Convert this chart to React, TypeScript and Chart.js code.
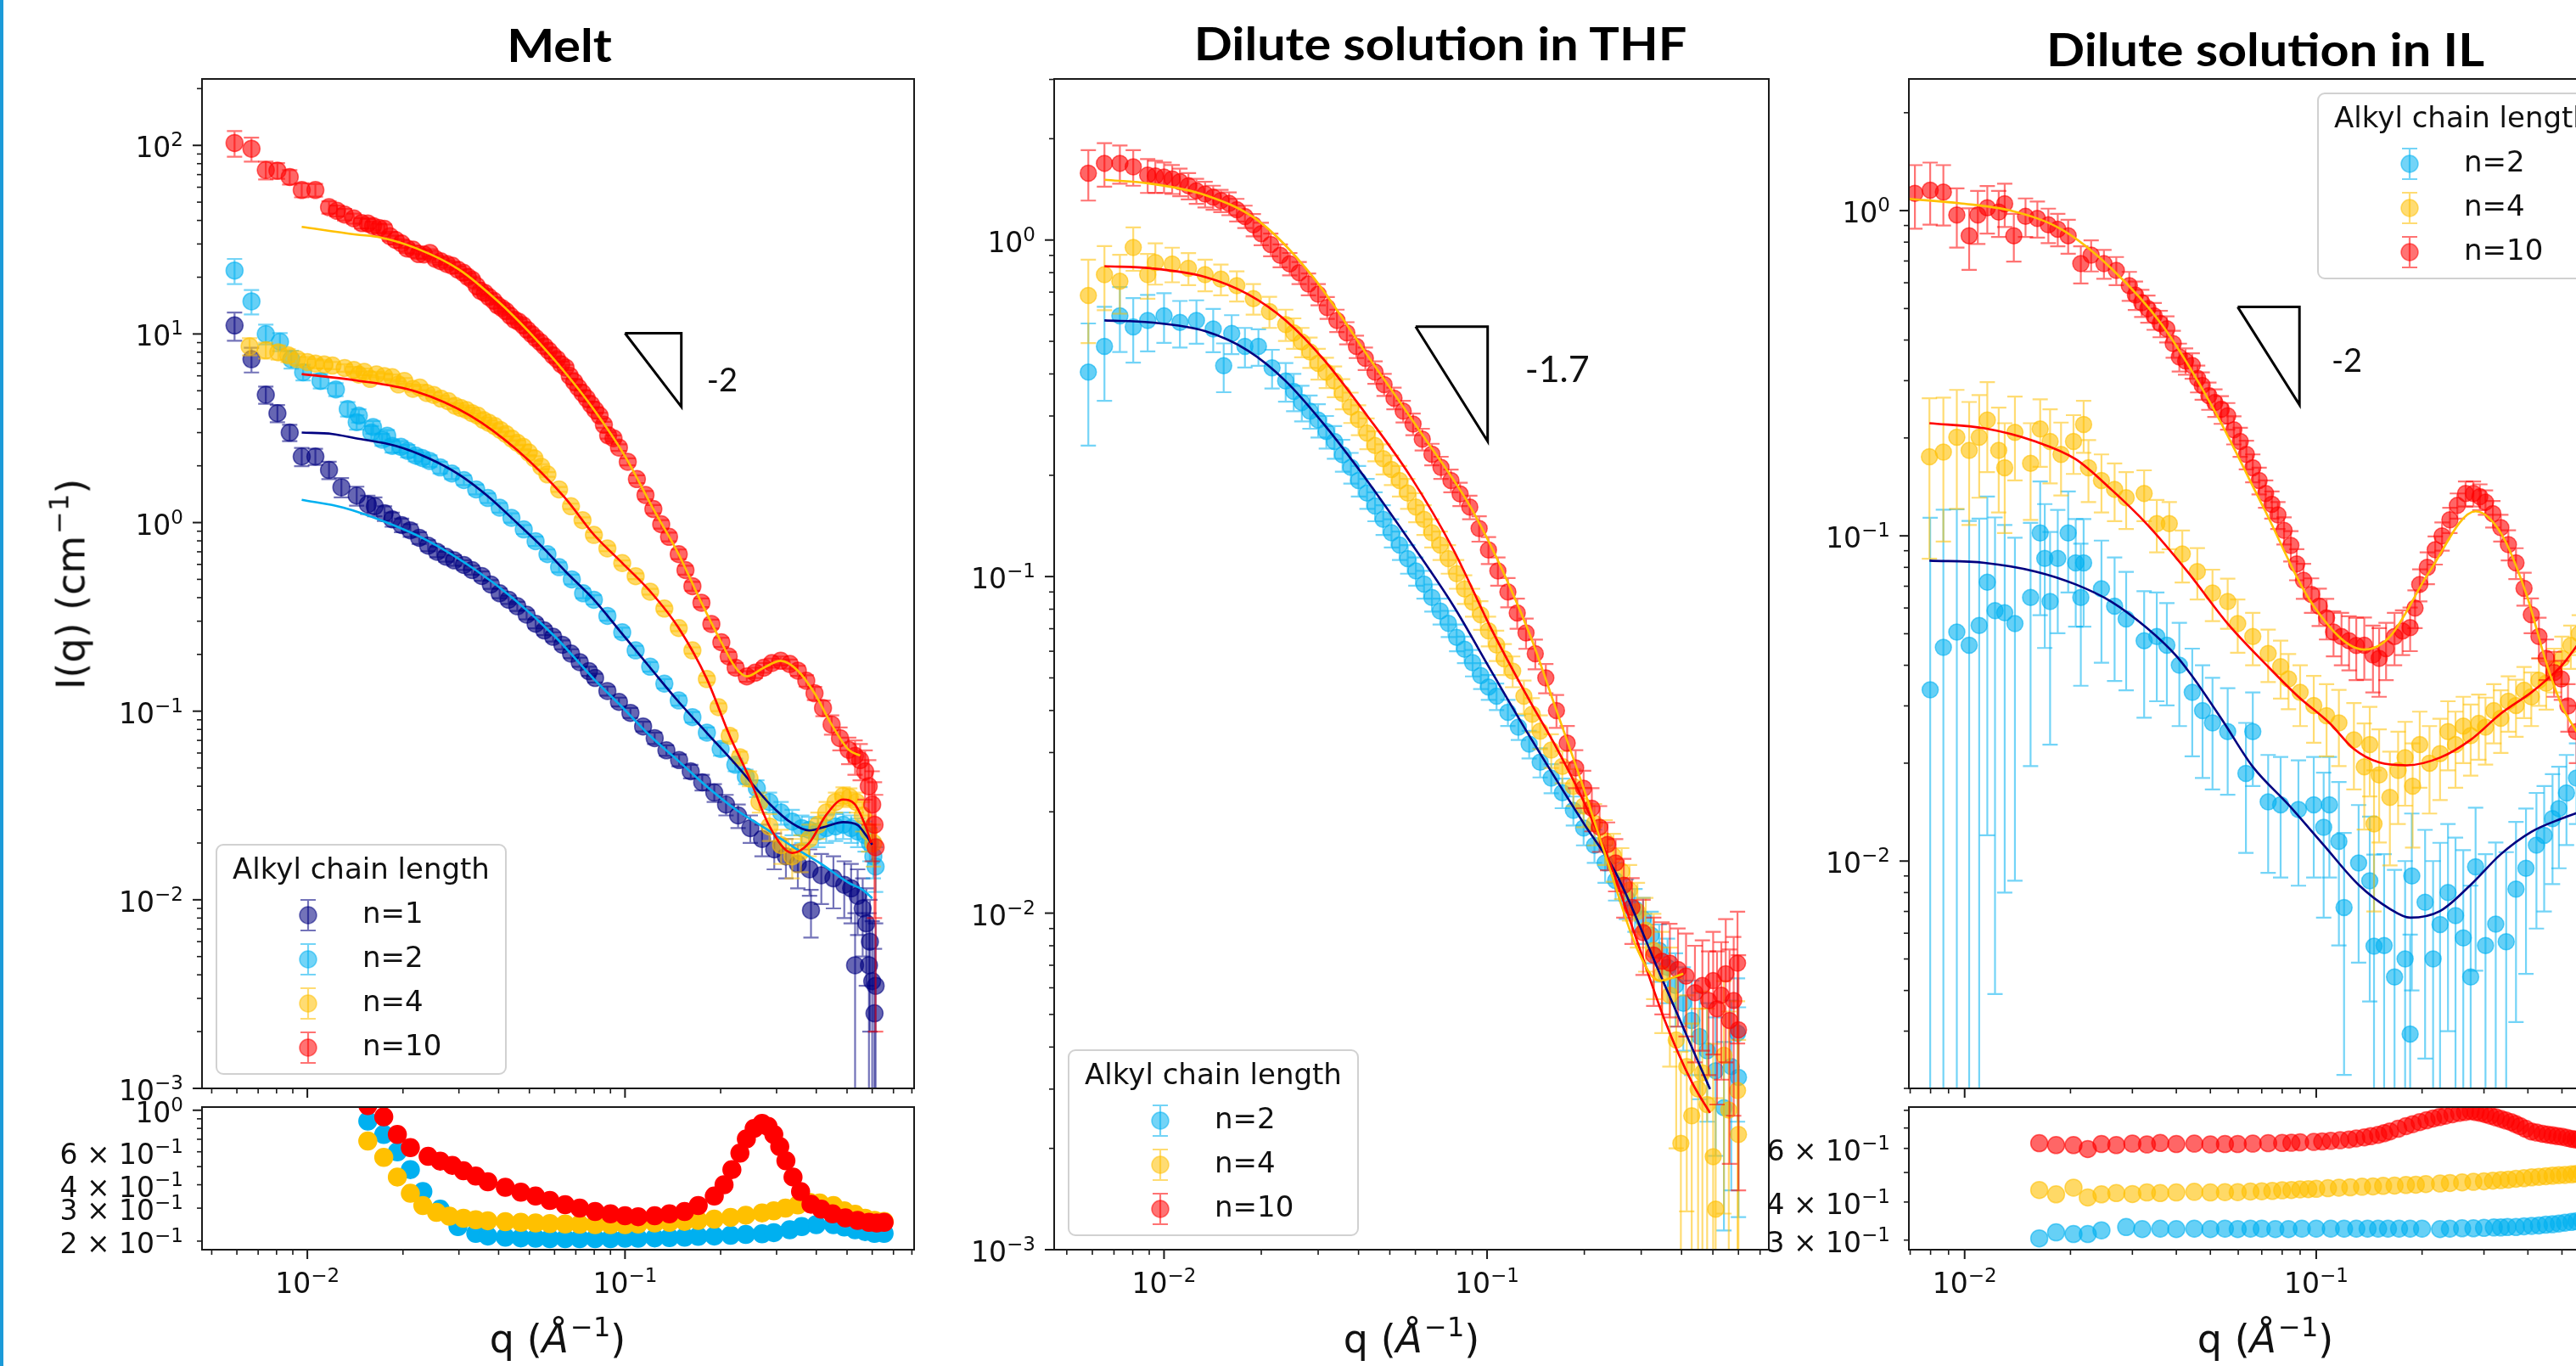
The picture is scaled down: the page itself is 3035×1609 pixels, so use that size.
import React, { useEffect, useRef } from 'react';
import { Chart, registerables } from 'chart.js';

Chart.register(...registerables);

// ---------------- tick values & labels ("base^exponent") ----------------
const qMajorTicks = [0.01, 0.1];
const qMinorTicks = [0.005, 0.006, 0.007, 0.008, 0.009, 0.02, 0.03, 0.04, 0.05, 0.06, 0.07, 0.08, 0.09, 0.2, 0.3, 0.4, 0.5, 0.6, 0.7, 0.8, 0.9];
const qTickLabels = ['10^−2', '10^−1'];
const iMajorTicks = [0.001, 0.01, 0.1, 1, 10, 100];
const iTickLabels = ['10^−3', '10^−2', '10^−1', '10^0', '10^1', '10^2'];
const iMinorMultipliers = [2, 3, 4, 5, 6, 7, 8, 9];
const meltRatioTicks = [0.2, 0.3, 0.4, 0.5, 0.6, 0.7, 0.8, 0.9, 1];
const meltRatioLabelled = [0.2, 0.3, 0.4, 0.6, 1];
const meltRatioLabels = ['2 × 10^−1', '3 × 10^−1', '4 × 10^−1', '6 × 10^−1', '10^0'];
const ilRatioTicks = [0.3, 0.4, 0.5, 0.6, 0.7, 0.8];
const ilRatioLabelled = [0.3, 0.4, 0.6];
const ilRatioLabels = ['3 × 10^−1', '4 × 10^−1', '6 × 10^−1'];

// ---------------- axis ranges ----------------
const meltQRange = [0.00466, 0.813];
const meltIRange = [0.001, 225];
const meltRatioRange = [0.18, 1.04];
const thfQRange = [0.00457, 0.745];
const thfIRange = [0.001, 3.01];
const ilQRange = [0.00694, 0.74];
const ilIRange = [0.002, 2.54];
const ilRatioRange = [0.279, 0.82];

// ---------------- MELT data [q, I, err] ----------------
const meltN1 = [
  [0.0059, 11.1, 1.9], [0.00667, 7.35, 1.1], [0.0074, 4.76, 0.5], [0.00805, 3.8, 0.4], [0.0088, 3.0, 0.3],
  [0.0096, 2.24, 0.25], [0.0106, 2.24, 0.22], [0.0117, 1.9, 0.2], [0.0128, 1.54, 0.18], [0.0143, 1.39, 0.16],
  [0.0155, 1.25, 0.14], [0.0163, 1.22, 0.14], [0.0175, 1.12, 0.1], [0.0185, 1.04, 0.09], [0.0198, 0.97, 0.08],
  [0.0211, 0.91, 0.07], [0.0225, 0.83, 0.06], [0.024, 0.755, 0.05], [0.0256, 0.7, 0.045], [0.0273, 0.66, 0.04],
  [0.029, 0.63, 0.04], [0.0311, 0.596, 0.035], [0.033, 0.56, 0.03], [0.0354, 0.521, 0.03], [0.0378, 0.47, 0.025],
  [0.0403, 0.422, 0.025], [0.043, 0.39, 0.02], [0.0458, 0.36, 0.02], [0.049, 0.325, 0.018], [0.0523, 0.291, 0.016],
  [0.0557, 0.268, 0.015], [0.0594, 0.248, 0.014], [0.0635, 0.225, 0.012], [0.0676, 0.202, 0.011], [0.072, 0.182, 0.01],
  [0.077, 0.163, 0.009], [0.0805, 0.15, 0.008], [0.088, 0.128, 0.007], [0.0957, 0.112, 0.006], [0.104, 0.098, 0.006],
  [0.114, 0.083, 0.005], [0.124, 0.072, 0.005], [0.135, 0.062, 0.004], [0.148, 0.055, 0.004], [0.161, 0.048, 0.004],
  [0.175, 0.042, 0.004], [0.191, 0.037, 0.004], [0.208, 0.032, 0.004], [0.227, 0.028, 0.004], [0.248, 0.024, 0.004],
  [0.27, 0.021, 0.004], [0.295, 0.0185, 0.004], [0.321, 0.017, 0.004], [0.35, 0.0155, 0.004], [0.381, 0.0145, 0.004],
  [0.385, 0.0088, 0.0025], [0.415, 0.0135, 0.004], [0.453, 0.013, 0.004], [0.49, 0.012, 0.004], [0.515, 0.0115, 0.004],
  [0.53, 0.0045, 0.004], [0.54, 0.0105, 0.004], [0.56, 0.009, 0.004], [0.575, 0.0075, 0.004], [0.586, 0.0045, 0.004],
  [0.59, 0.006, 0.004], [0.6, 0.0037, 0.004], [0.61, 0.0025, 0.003], [0.615, 0.0035, 0.004],
];
const meltN2 = [
  [0.0059, 21.7, 3.3], [0.00667, 14.9, 2.2], [0.0074, 10, 1.2], [0.0082, 9.1, 1.0], [0.0089, 7.35, 0.8],
  [0.0097, 6.27, 0.6], [0.011, 5.64, 0.5], [0.0123, 5.08, 0.4], [0.0134, 4.0, 0.35], [0.0143, 3.41, 0.3],
  [0.01452, 3.69, 0.3], [0.0159, 3.0, 0.25], [0.0161, 3.21, 0.25], [0.0172, 2.75, 0.2], [0.01784, 2.89, 0.2],
  [0.0185, 2.55, 0.2], [0.0197, 2.52, 0.18], [0.0207, 2.4, 0.18], [0.0219, 2.27, 0.16], [0.023, 2.2, 0.16],
  [0.0243, 2.12, 0.15], [0.0262, 1.96, 0.14], [0.0285, 1.82, 0.12], [0.0311, 1.68, 0.1], [0.034, 1.5, 0.09],
  [0.037, 1.35, 0.08], [0.0403, 1.2, 0.07], [0.0439, 1.06, 0.06], [0.048, 0.92, 0.05], [0.0523, 0.797, 0.045],
  [0.057, 0.68, 0.04], [0.062, 0.58, 0.035], [0.068, 0.5, 0.03], [0.0738, 0.422, 0.025], [0.0798, 0.39, 0.022],
  [0.088, 0.32, 0.018], [0.098, 0.262, 0.015], [0.108, 0.21, 0.012], [0.12, 0.172, 0.01], [0.133, 0.14, 0.008],
  [0.1476, 0.114, 0.007], [0.163, 0.093, 0.006], [0.181, 0.077, 0.005], [0.2, 0.063, 0.005], [0.2225, 0.052, 0.004],
  [0.24, 0.045, 0.004], [0.26, 0.039, 0.004], [0.285, 0.033, 0.004], [0.31, 0.029, 0.004], [0.336, 0.026, 0.004],
  [0.36, 0.024, 0.004], [0.38, 0.0235, 0.004], [0.405, 0.023, 0.004], [0.43, 0.024, 0.004], [0.46, 0.0245, 0.004],
  [0.486, 0.025, 0.004], [0.515, 0.024, 0.004], [0.54, 0.023, 0.004], [0.57, 0.022, 0.004], [0.59, 0.02, 0.004],
  [0.605, 0.017, 0.004], [0.615, 0.015, 0.004],
];
const meltN4 = [
  [0.00658, 8.6, 0.9], [0.0074, 8.2, 0.8], [0.0081, 8.0, 0.7], [0.0087, 7.7, 0.6], [0.0093, 7.35, 0.5],
  [0.01, 7.1, 0.45], [0.0106, 6.97, 0.4], [0.0113, 6.9, 0.35], [0.012, 6.8, 0.3], [0.0131, 6.6, 0.3],
  [0.014, 6.45, 0.25], [0.01452, 6.09, 0.25], [0.0151, 6.3, 0.25], [0.01577, 5.78, 0.25], [0.0165, 6.1, 0.2],
  [0.01747, 5.98, 0.2], [0.0185, 5.9, 0.2], [0.01936, 5.4, 0.2], [0.0202, 5.64, 0.2], [0.0215, 5.12, 0.18],
  [0.0226, 5.2, 0.18], [0.02377, 4.86, 0.16], [0.025, 4.75, 0.15], [0.02634, 4.54, 0.15], [0.0278, 4.4, 0.14],
  [0.0292, 4.16, 0.14], [0.0304, 4.05, 0.13], [0.0317, 3.95, 0.12], [0.033, 3.8, 0.12], [0.0344, 3.69, 0.11],
  [0.0358, 3.5, 0.1], [0.0373, 3.38, 0.1], [0.0389, 3.25, 0.1], [0.0405, 3.1, 0.09], [0.0422, 2.95, 0.09],
  [0.044, 2.79, 0.08], [0.0458, 2.65, 0.08], [0.0478, 2.52, 0.07], [0.0498, 2.35, 0.07], [0.0519, 2.19, 0.06],
  [0.0545, 1.98, 0.06], [0.057, 1.8, 0.05], [0.062, 1.5, 0.045], [0.0676, 1.22, 0.04], [0.0735, 1.03, 0.035],
  [0.0798, 0.86, 0.03], [0.088, 0.73, 0.025], [0.098, 0.61, 0.02], [0.108, 0.52, 0.018], [0.12, 0.43, 0.015],
  [0.133, 0.35, 0.012], [0.1476, 0.276, 0.01], [0.163, 0.21, 0.008], [0.181, 0.148, 0.006], [0.197, 0.105, 0.005],
  [0.2136, 0.074, 0.005], [0.23, 0.057, 0.004], [0.2466, 0.044, 0.004], [0.265, 0.033, 0.004], [0.285, 0.0245, 0.004],
  [0.31, 0.0195, 0.004], [0.336, 0.017, 0.004], [0.358, 0.018, 0.004], [0.38, 0.021, 0.004], [0.405, 0.025, 0.004],
  [0.43, 0.029, 0.004], [0.46, 0.033, 0.004], [0.486, 0.0355, 0.004], [0.51, 0.035, 0.004], [0.535, 0.033, 0.004],
  [0.56, 0.028, 0.005], [0.585, 0.023, 0.005], [0.605, 0.02, 0.005],
];
const meltN10 = [
  [0.0059, 103, 16], [0.00667, 96, 14], [0.0074, 74, 8], [0.00805, 73.5, 7], [0.0088, 68, 6],
  [0.0096, 58, 5], [0.0106, 58, 4.5], [0.0117, 47, 3.5], [0.0124, 45, 3], [0.0131, 43, 3],
  [0.014, 41, 2.5], [0.01483, 38.7, 2.5], [0.0155, 38.5, 2.2], [0.0161, 37.4, 2], [0.0168, 36.5, 2],
  [0.01747, 36.1, 2], [0.0182, 33, 1.8], [0.01897, 31.5, 1.7], [0.0198, 30.2, 1.6], [0.0206, 28.4, 1.5],
  [0.0215, 28.0, 1.5], [0.0224, 26.5, 1.4], [0.0233, 26.4, 1.3], [0.0243, 26.9, 1.2], [0.0253, 25.0, 1.1],
  [0.0263, 24.3, 1.1], [0.0275, 23.5, 1], [0.0286, 23.0, 1], [0.0298, 21.9, 0.9], [0.031, 21.1, 0.9],
  [0.032, 20.1, 0.8], [0.033, 19.4, 0.8], [0.0341, 18.0, 0.7], [0.0351, 16.9, 0.7], [0.0362, 16.5, 0.6],
  [0.0373, 15.7, 0.6], [0.0386, 15.0, 0.55], [0.0397, 14.2, 0.55], [0.041, 13.7, 0.5], [0.0422, 13.2, 0.5],
  [0.0435, 12.5, 0.45], [0.0449, 11.9, 0.45], [0.0463, 11.6, 0.4], [0.0478, 11.1, 0.4], [0.0493, 10.5, 0.35],
  [0.0508, 10.0, 0.35], [0.0524, 9.5, 0.3], [0.0541, 9.06, 0.3], [0.0558, 8.6, 0.3], [0.0575, 8.17, 0.28],
  [0.0593, 7.7, 0.26], [0.0611, 7.36, 0.25], [0.063, 6.9, 0.24], [0.065, 6.64, 0.22], [0.067, 6.0, 0.21],
  [0.0692, 5.58, 0.2], [0.0713, 5.2, 0.18], [0.0735, 4.86, 0.17], [0.0758, 4.55, 0.16], [0.0782, 4.23, 0.15],
  [0.0806, 3.95, 0.14], [0.0832, 3.69, 0.13], [0.0858, 3.3, 0.12], [0.0885, 2.9, 0.11], [0.092, 2.8, 0.1],
  [0.0957, 2.5, 0.1], [0.102, 2.1, 0.09], [0.109, 1.7, 0.08], [0.116, 1.4, 0.07], [0.1228, 1.18, 0.06],
  [0.13, 0.98, 0.05], [0.1376, 0.84, 0.045], [0.1476, 0.68, 0.04], [0.155, 0.56, 0.03], [0.163, 0.46, 0.025],
  [0.174, 0.376, 0.02], [0.187, 0.29, 0.016], [0.201, 0.232, 0.013], [0.212, 0.195, 0.011], [0.223, 0.17, 0.01],
  [0.2417, 0.153, 0.01], [0.257, 0.16, 0.01], [0.2735, 0.17, 0.01], [0.29, 0.18, 0.01], [0.309, 0.185, 0.01],
  [0.33, 0.178, 0.01], [0.35, 0.164, 0.01], [0.372, 0.145, 0.01], [0.395, 0.1245, 0.01], [0.42, 0.104, 0.01],
  [0.447, 0.085, 0.01], [0.475, 0.072, 0.01], [0.506, 0.0624, 0.01], [0.53, 0.058, 0.012], [0.55, 0.055, 0.012],
  [0.57, 0.048, 0.014], [0.585, 0.04, 0.015], [0.6, 0.032, 0.016], [0.61, 0.025, 0.017], [0.615, 0.019, 0.017],
];
const meltFitN1 = [
  [0.0096, 1.32], [0.013, 1.2], [0.0178, 1.0], [0.024, 0.8], [0.0339, 0.56], [0.045, 0.39], [0.06, 0.25],
  [0.0798, 0.148], [0.098, 0.105], [0.12, 0.074], [0.1476, 0.0543], [0.181, 0.0398], [0.2225, 0.0302],
  [0.279, 0.0237], [0.336, 0.0192], [0.412, 0.0156], [0.506, 0.0123], [0.56, 0.0113], [0.6, 0.0102],
];
const meltFitN2 = [
  [0.0096, 3.0], [0.012, 2.95], [0.0142, 2.8], [0.019, 2.55], [0.024, 2.2], [0.03, 1.8], [0.037, 1.38],
  [0.045, 1.02], [0.055, 0.74], [0.065, 0.55], [0.0798, 0.39], [0.098, 0.257], [0.12, 0.17], [0.1476, 0.112],
  [0.181, 0.0767], [0.2225, 0.0525], [0.2515, 0.0412], [0.285, 0.0323], [0.336, 0.0254], [0.38, 0.0233],
  [0.43, 0.0245], [0.486, 0.0258], [0.54, 0.0249], [0.572, 0.0221], [0.6, 0.0196],
];
const meltFitN4 = [
  [0.0096, 6.13], [0.0142, 5.68], [0.022, 4.95], [0.0325, 3.7], [0.0458, 2.42], [0.0648, 1.35], [0.0798, 0.863],
  [0.098, 0.611], [0.12, 0.432], [0.1476, 0.276], [0.181, 0.148], [0.2136, 0.074], [0.2466, 0.0441],
  [0.285, 0.0245], [0.336, 0.0177], [0.38, 0.02], [0.43, 0.0282], [0.486, 0.034], [0.527, 0.0323],
  [0.572, 0.0245], [0.595, 0.02],
];
const meltFitN10 = [
  [0.0096, 37], [0.0142, 33.7], [0.017, 32.5], [0.022, 28.5], [0.03, 22], [0.04, 14.8], [0.05, 10.2],
  [0.065, 6.2], [0.08, 3.95], [0.1, 2.25], [0.1228, 1.18], [0.1476, 0.678], [0.174, 0.376], [0.201, 0.232],
  [0.223, 0.17], [0.2417, 0.153], [0.2735, 0.17], [0.309, 0.185], [0.35, 0.164], [0.395, 0.1245],
  [0.447, 0.085], [0.506, 0.0624], [0.55, 0.0582],
];
const meltSlope = [[0.1, 10.09], [0.1504, 10.09], [0.1504, 4.11], [0.1, 10.09]];
const meltRatioN2 = [
  [0.0155, 0.875], [0.0174, 0.743], [0.0192, 0.6], [0.0211, 0.482], [0.0231, 0.368], [0.0262, 0.296],
  [0.0298, 0.239], [0.0339, 0.22], [0.037, 0.213], [0.042, 0.21], [0.047, 0.208], [0.0523, 0.207],
  [0.058, 0.206], [0.0648, 0.206], [0.072, 0.206], [0.0805, 0.206], [0.09, 0.206], [0.1, 0.207], [0.11, 0.207],
  [0.124, 0.208], [0.138, 0.209], [0.154, 0.21], [0.17, 0.212], [0.191, 0.213], [0.215, 0.215], [0.24, 0.217],
  [0.27, 0.219], [0.294, 0.222], [0.33, 0.23], [0.36, 0.239], [0.4, 0.245], [0.453, 0.245], [0.49, 0.238],
  [0.53, 0.23], [0.57, 0.225], [0.61, 0.22], [0.654, 0.22],
];
const meltRatioN4 = [
  [0.0155, 0.685], [0.0174, 0.56], [0.0192, 0.44], [0.0211, 0.36], [0.0231, 0.31], [0.0255, 0.285],
  [0.028, 0.272], [0.031, 0.265], [0.0339, 0.26], [0.037, 0.257], [0.042, 0.254], [0.047, 0.252],
  [0.0523, 0.25], [0.058, 0.248], [0.0648, 0.247], [0.072, 0.246], [0.0805, 0.245], [0.09, 0.245], [0.1, 0.245],
  [0.11, 0.247], [0.124, 0.25], [0.138, 0.252], [0.154, 0.255], [0.17, 0.258], [0.191, 0.262], [0.215, 0.268],
  [0.24, 0.275], [0.27, 0.283], [0.294, 0.29], [0.32, 0.3], [0.35, 0.312], [0.381, 0.322], [0.41, 0.32],
  [0.453, 0.31], [0.49, 0.29], [0.53, 0.278], [0.57, 0.265], [0.61, 0.258], [0.654, 0.255],
];
const meltRatioN10 = [
  [0.0155, 1.06], [0.0174, 0.922], [0.0192, 0.743], [0.0211, 0.632], [0.024, 0.567], [0.0262, 0.535],
  [0.0286, 0.508], [0.031, 0.475], [0.0339, 0.445], [0.037, 0.415], [0.042, 0.388], [0.047, 0.365],
  [0.0523, 0.348], [0.058, 0.33], [0.0648, 0.313], [0.072, 0.3], [0.0805, 0.288], [0.09, 0.28], [0.1, 0.273],
  [0.11, 0.27], [0.124, 0.273], [0.138, 0.28], [0.154, 0.288], [0.17, 0.31], [0.191, 0.348], [0.205, 0.4],
  [0.217, 0.482], [0.23, 0.59], [0.241, 0.703], [0.255, 0.8], [0.27, 0.851], [0.282, 0.82], [0.294, 0.743],
  [0.307, 0.64], [0.321, 0.537], [0.338, 0.44], [0.357, 0.368], [0.385, 0.315], [0.415, 0.296], [0.45, 0.28],
  [0.494, 0.266], [0.54, 0.258], [0.586, 0.252], [0.62, 0.25], [0.654, 0.252],
];

// ---------------- THF data ----------------
const thfN2 = [
  [0.00583, 0.405, 0.16], [0.00654, 0.483, 0.15], [0.0073, 0.595, 0.13], [0.00803, 0.552, 0.12], [0.0089, 0.577, 0.11],
  [0.01, 0.595, 0.1], [0.0112, 0.569, 0.09], [0.0126, 0.577, 0.085], [0.0142, 0.544, 0.08], [0.0153, 0.423, 0.07],
  [0.0162, 0.528, 0.07], [0.0178, 0.483, 0.065], [0.0196, 0.483, 0.06], [0.0216, 0.417, 0.055], [0.0238, 0.381, 0.05],
  [0.0252, 0.355, 0.045], [0.0267, 0.329, 0.04], [0.0283, 0.31, 0.035], [0.03, 0.292, 0.033], [0.0318, 0.27, 0.03],
  [0.0337, 0.252, 0.028], [0.0357, 0.23, 0.025], [0.0379, 0.211, 0.022], [0.04, 0.193, 0.02], [0.0425, 0.177, 0.018],
  [0.045, 0.162, 0.016], [0.0477, 0.148, 0.015], [0.0506, 0.135, 0.013], [0.0536, 0.124, 0.012], [0.0568, 0.113, 0.011],
  [0.0602, 0.104, 0.01], [0.0638, 0.095, 0.009], [0.0675, 0.0867, 0.008], [0.0716, 0.079, 0.007], [0.0759, 0.0726, 0.0065],
  [0.0805, 0.066, 0.006], [0.0852, 0.0608, 0.0055], [0.0902, 0.0555, 0.005], [0.0956, 0.0508, 0.0045], [0.101, 0.047, 0.004],
  [0.107, 0.0441, 0.004], [0.116, 0.0395, 0.0035], [0.125, 0.0357, 0.003], [0.135, 0.0318, 0.003], [0.146, 0.0281, 0.0028],
  [0.158, 0.0252, 0.0025], [0.171, 0.0228, 0.0023], [0.185, 0.0202, 0.002], [0.199, 0.0179, 0.002], [0.215, 0.0159, 0.0018],
  [0.232, 0.0141, 0.0018], [0.25, 0.0125, 0.0016], [0.27, 0.0111, 0.0015], [0.287, 0.0103, 0.0015], [0.304, 0.0096, 0.0015],
  [0.322, 0.0086, 0.0015], [0.341, 0.00775, 0.0015], [0.362, 0.0069, 0.0015], [0.383, 0.0061, 0.0015], [0.405, 0.0054, 0.0015],
  [0.43, 0.0048, 0.0015], [0.455, 0.0043, 0.0015], [0.48, 0.0039, 0.0015], [0.51, 0.0034, 0.0015], [0.541, 0.00264, 0.0015],
  [0.57, 0.0035, 0.002], [0.596, 0.0044, 0.002], [0.6, 0.00325, 0.002],
];
const thfN4 = [
  [0.00583, 0.684, 0.19], [0.00654, 0.789, 0.17], [0.0073, 0.754, 0.15], [0.00803, 0.95, 0.14], [0.0089, 0.789, 0.12],
  [0.0094, 0.857, 0.12], [0.0106, 0.849, 0.1], [0.0119, 0.824, 0.09], [0.0134, 0.789, 0.085], [0.015, 0.765, 0.08],
  [0.0168, 0.732, 0.075], [0.0189, 0.67, 0.07], [0.0212, 0.613, 0.065], [0.0238, 0.561, 0.06], [0.0252, 0.53, 0.055],
  [0.0267, 0.498, 0.05], [0.0283, 0.465, 0.048], [0.03, 0.43, 0.045], [0.0318, 0.405, 0.042], [0.0337, 0.381, 0.04],
  [0.0357, 0.35, 0.036], [0.0379, 0.319, 0.033], [0.04, 0.293, 0.03], [0.0425, 0.267, 0.028], [0.045, 0.245, 0.025],
  [0.0477, 0.224, 0.023], [0.0506, 0.208, 0.021], [0.0536, 0.193, 0.02], [0.0568, 0.177, 0.018], [0.0602, 0.161, 0.016],
  [0.0638, 0.148, 0.015], [0.0675, 0.135, 0.013], [0.0716, 0.124, 0.012], [0.0759, 0.113, 0.011], [0.0805, 0.102, 0.01],
  [0.0852, 0.0919, 0.009], [0.0902, 0.084, 0.008], [0.0956, 0.077, 0.0075], [0.101, 0.069, 0.007], [0.107, 0.0626, 0.0065],
  [0.113, 0.057, 0.006], [0.12, 0.0524, 0.0055], [0.13, 0.0441, 0.005], [0.138, 0.039, 0.0045], [0.146, 0.0347, 0.004],
  [0.158, 0.0305, 0.0035], [0.171, 0.0273, 0.003], [0.185, 0.0238, 0.003], [0.199, 0.0208, 0.0028], [0.215, 0.0185, 0.0026],
  [0.232, 0.0164, 0.0025], [0.246, 0.0148, 0.0024], [0.261, 0.0133, 0.0023], [0.276, 0.0117, 0.0022], [0.292, 0.0101, 0.0022],
  [0.31, 0.0089, 0.0022], [0.328, 0.00775, 0.0022], [0.348, 0.0066, 0.0022], [0.368, 0.0057, 0.0022], [0.385, 0.0042, 0.0022],
  [0.398, 0.00207, 0.0018], [0.415, 0.0035, 0.0022], [0.43, 0.0025, 0.0022], [0.45, 0.003, 0.0022], [0.464, 0.00335, 0.0025],
  [0.48, 0.0027, 0.0025], [0.501, 0.00189, 0.0022], [0.51, 0.00132, 0.0015], [0.541, 0.00378, 0.0025], [0.56, 0.0026, 0.0025],
  [0.596, 0.00297, 0.0025], [0.6, 0.0022, 0.002],
];
const thfN10 = [
  [0.00583, 1.58, 0.27], [0.00654, 1.69, 0.25], [0.0073, 1.69, 0.22], [0.00803, 1.65, 0.2], [0.0089, 1.56, 0.18],
  [0.0094, 1.55, 0.17], [0.01, 1.54, 0.16], [0.0106, 1.52, 0.15], [0.0112, 1.49, 0.14], [0.0119, 1.45, 0.13],
  [0.0126, 1.4, 0.12], [0.0134, 1.37, 0.12], [0.0142, 1.34, 0.11], [0.015, 1.31, 0.1], [0.0159, 1.285, 0.1],
  [0.0168, 1.23, 0.095], [0.0178, 1.175, 0.09], [0.0189, 1.11, 0.085], [0.02, 1.045, 0.08], [0.0214, 0.97, 0.075],
  [0.0229, 0.9, 0.07], [0.0245, 0.85, 0.065], [0.0262, 0.8, 0.06], [0.028, 0.74, 0.055], [0.03, 0.69, 0.05],
  [0.032, 0.63, 0.047], [0.0343, 0.577, 0.044], [0.0368, 0.53, 0.04], [0.0394, 0.483, 0.037], [0.042, 0.445, 0.034],
  [0.045, 0.405, 0.031], [0.048, 0.372, 0.028], [0.0515, 0.339, 0.025], [0.055, 0.31, 0.023], [0.059, 0.284, 0.021],
  [0.063, 0.256, 0.019], [0.0675, 0.231, 0.017], [0.072, 0.211, 0.016], [0.0773, 0.193, 0.015], [0.0825, 0.176, 0.014],
  [0.0884, 0.161, 0.013], [0.0945, 0.139, 0.012], [0.101, 0.12, 0.011], [0.108, 0.104, 0.01], [0.116, 0.09, 0.009],
  [0.124, 0.078, 0.008], [0.132, 0.068, 0.007], [0.141, 0.059, 0.006], [0.152, 0.05, 0.005], [0.164, 0.04, 0.0045],
  [0.177, 0.032, 0.004], [0.188, 0.027, 0.0035], [0.199, 0.0235, 0.003], [0.211, 0.0205, 0.003], [0.223, 0.018, 0.0028],
  [0.236, 0.016, 0.0026], [0.25, 0.0141, 0.0025], [0.265, 0.0121, 0.0024], [0.281, 0.0104, 0.0023], [0.304, 0.00875, 0.0022],
  [0.328, 0.0075, 0.0022], [0.348, 0.0072, 0.0022], [0.368, 0.0071, 0.0022], [0.39, 0.0068, 0.0022], [0.413, 0.0065, 0.0022],
  [0.44, 0.0058, 0.0022], [0.464, 0.0061, 0.0022], [0.485, 0.0055, 0.0022], [0.501, 0.0063, 0.0025], [0.515, 0.0052, 0.0025],
  [0.531, 0.0057, 0.0025], [0.548, 0.0066, 0.003], [0.563, 0.0048, 0.003], [0.58, 0.0055, 0.003], [0.596, 0.0071, 0.003],
  [0.6, 0.0045, 0.003],
];
const thfFitN2 = [
  [0.00654, 0.577], [0.0091, 0.569], [0.0134, 0.536], [0.0182, 0.469], [0.0238, 0.381], [0.0312, 0.284],
  [0.0425, 0.193], [0.0578, 0.127], [0.0787, 0.0818], [0.103, 0.0524], [0.135, 0.0337], [0.199, 0.0185],
  [0.25, 0.0132], [0.35, 0.0063], [0.43, 0.004], [0.49, 0.003],
];
const thfFitN4 = [
  [0.00654, 0.836], [0.0091, 0.824], [0.0134, 0.777], [0.0182, 0.69], [0.0238, 0.577], [0.0312, 0.442],
  [0.0425, 0.301], [0.0578, 0.199], [0.0787, 0.12], [0.103, 0.07], [0.135, 0.043], [0.164, 0.031],
  [0.199, 0.0215], [0.24, 0.0141], [0.292, 0.0082], [0.355, 0.0048], [0.43, 0.00315], [0.49, 0.00255],
];
const thfFitN10 = [
  [0.00654, 1.51], [0.0091, 1.47], [0.0134, 1.36], [0.0196, 1.14], [0.0289, 0.777], [0.0425, 0.456],
  [0.0625, 0.267], [0.0919, 0.152], [0.135, 0.068], [0.164, 0.04], [0.199, 0.0235], [0.24, 0.0135],
  [0.292, 0.0078], [0.341, 0.0063], [0.405, 0.0066],
];
const thfSlope = [[0.0601, 0.553], [0.1004, 0.553], [0.1004, 0.2525], [0.0601, 0.553]];

// ---------------- IL data ----------------
const ilN2 = [
  [0.00798, 0.0336, 0.08], [0.0087, 0.0454, 0.075], [0.0095, 0.0506, 0.07], [0.0103, 0.0461, 0.065], [0.011, 0.053, 0.06],
  [0.0116, 0.072, 0.06], [0.0122, 0.0589, 0.055], [0.013, 0.058, 0.05], [0.0139, 0.0537, 0.045], [0.0154, 0.0646, 0.045],
  [0.0164, 0.102, 0.045], [0.0169, 0.0852, 0.04], [0.0175, 0.0628, 0.04], [0.0184, 0.0852, 0.035], [0.0197, 0.102, 0.035],
  [0.0207, 0.0826, 0.03], [0.0214, 0.0646, 0.03], [0.0218, 0.0826, 0.03], [0.0245, 0.0687, 0.028], [0.0267, 0.0608, 0.025],
  [0.0288, 0.0555, 0.022], [0.0324, 0.0476, 0.02], [0.0352, 0.049, 0.018], [0.0376, 0.0461, 0.016], [0.0408, 0.04, 0.014],
  [0.0444, 0.033, 0.012], [0.0475, 0.029, 0.011], [0.0507, 0.0266, 0.01], [0.056, 0.025, 0.009], [0.0631, 0.0186, 0.008],
  [0.066, 0.025, 0.008], [0.073, 0.0152, 0.006], [0.0792, 0.0149, 0.006], [0.089, 0.0144, 0.006], [0.0984, 0.0149, 0.006],
  [0.105, 0.0127, 0.006], [0.109, 0.0149, 0.006], [0.116, 0.0115, 0.006], [0.12, 0.0072, 0.005], [0.132, 0.00987, 0.005],
  [0.142, 0.0087, 0.005], [0.146, 0.00547, 0.005], [0.156, 0.0055, 0.005], [0.167, 0.0044, 0.005], [0.179, 0.005, 0.005],
  [0.185, 0.00294, 0.003], [0.187, 0.009, 0.005], [0.204, 0.00747, 0.005], [0.215, 0.005, 0.005], [0.225, 0.00638, 0.005],
  [0.237, 0.008, 0.005], [0.249, 0.0068, 0.005], [0.262, 0.0058, 0.005], [0.275, 0.0044, 0.004], [0.284, 0.0096, 0.005],
  [0.303, 0.0055, 0.005], [0.324, 0.0064, 0.005], [0.347, 0.00565, 0.005], [0.37, 0.0082, 0.005], [0.395, 0.0095, 0.005],
  [0.423, 0.0112, 0.005], [0.445, 0.012, 0.005], [0.47, 0.0135, 0.005], [0.49, 0.0145, 0.005], [0.515, 0.0162, 0.005],
  [0.55, 0.018, 0.005],
];
const ilN4 = [
  [0.00794, 0.175, 0.09], [0.0087, 0.181, 0.085], [0.0095, 0.201, 0.08], [0.0103, 0.183, 0.075], [0.011, 0.201, 0.07],
  [0.0116, 0.227, 0.07], [0.0125, 0.183, 0.065], [0.013, 0.162, 0.06], [0.0139, 0.208, 0.06], [0.0154, 0.167, 0.055],
  [0.0164, 0.213, 0.05], [0.0175, 0.195, 0.05], [0.0188, 0.178, 0.045], [0.0204, 0.195, 0.04], [0.0218, 0.22, 0.04],
  [0.0225, 0.162, 0.035], [0.0245, 0.148, 0.03], [0.0267, 0.139, 0.028], [0.0288, 0.131, 0.026], [0.0324, 0.135, 0.024],
  [0.0352, 0.109, 0.02], [0.0382, 0.109, 0.018], [0.0416, 0.0879, 0.016], [0.0459, 0.0777, 0.014], [0.0507, 0.0667, 0.012],
  [0.056, 0.0628, 0.011], [0.0598, 0.0537, 0.01], [0.066, 0.049, 0.009], [0.073, 0.0435, 0.008], [0.0792, 0.0396, 0.008],
  [0.0834, 0.0363, 0.007], [0.09, 0.033, 0.007], [0.0984, 0.0301, 0.007], [0.107, 0.028, 0.007], [0.116, 0.0266, 0.007],
  [0.128, 0.0236, 0.007], [0.137, 0.0195, 0.007], [0.142, 0.0228, 0.007], [0.146, 0.013, 0.006], [0.151, 0.0184, 0.007],
  [0.162, 0.0157, 0.006], [0.171, 0.019, 0.006], [0.179, 0.0208, 0.006], [0.188, 0.017, 0.006], [0.197, 0.0228, 0.006],
  [0.21, 0.02, 0.006], [0.225, 0.0214, 0.006], [0.237, 0.025, 0.006], [0.249, 0.0228, 0.006], [0.262, 0.026, 0.006],
  [0.275, 0.0243, 0.006], [0.29, 0.0265, 0.006], [0.303, 0.0258, 0.006], [0.32, 0.029, 0.006], [0.335, 0.0275, 0.006],
  [0.352, 0.031, 0.006], [0.37, 0.0301, 0.006], [0.39, 0.0335, 0.006], [0.409, 0.032, 0.006], [0.43, 0.036, 0.006],
  [0.451, 0.0352, 0.006], [0.475, 0.039, 0.006], [0.5, 0.042, 0.007], [0.53, 0.046, 0.007], [0.56, 0.05, 0.007],
];
const ilN10 = [
  [0.00722, 1.13, 0.25], [0.00798, 1.155, 0.25], [0.0087, 1.14, 0.24], [0.0095, 0.97, 0.2], [0.0103, 0.837, 0.18],
  [0.0109, 0.97, 0.18], [0.0116, 1.02, 0.17], [0.0125, 0.99, 0.16], [0.013, 1.05, 0.16], [0.0138, 0.837, 0.14],
  [0.0149, 0.96, 0.13], [0.0161, 0.946, 0.12], [0.0173, 0.904, 0.11], [0.0184, 0.877, 0.1], [0.0197, 0.837, 0.1],
  [0.0214, 0.687, 0.09], [0.0229, 0.73, 0.08], [0.0249, 0.687, 0.07], [0.027, 0.655, 0.065], [0.0294, 0.588, 0.06],
  [0.0306, 0.55, 0.055], [0.0319, 0.521, 0.05], [0.0332, 0.5, 0.048], [0.0346, 0.475, 0.045], [0.036, 0.45, 0.042],
  [0.0376, 0.433, 0.04], [0.0392, 0.39, 0.037], [0.0408, 0.355, 0.035], [0.0425, 0.345, 0.032], [0.0444, 0.334, 0.03],
  [0.046, 0.305, 0.029], [0.0474, 0.29, 0.028], [0.0495, 0.27, 0.026], [0.0515, 0.257, 0.025], [0.0537, 0.245, 0.024],
  [0.056, 0.234, 0.022], [0.0583, 0.212, 0.021], [0.0608, 0.195, 0.02], [0.0633, 0.178, 0.018], [0.066, 0.162, 0.016],
  [0.0688, 0.148, 0.014], [0.0718, 0.135, 0.013], [0.0748, 0.125, 0.012], [0.0778, 0.116, 0.011], [0.081, 0.104, 0.01],
  [0.0847, 0.0934, 0.01], [0.088, 0.082, 0.009], [0.092, 0.073, 0.009], [0.097, 0.066, 0.008], [0.102, 0.0608, 0.008],
  [0.107, 0.056, 0.008], [0.112, 0.0506, 0.008], [0.118, 0.049, 0.009], [0.124, 0.0476, 0.009], [0.13, 0.046, 0.01],
  [0.137, 0.0461, 0.01], [0.145, 0.043, 0.01], [0.151, 0.042, 0.01], [0.158, 0.045, 0.009], [0.167, 0.049, 0.009],
  [0.176, 0.051, 0.008], [0.185, 0.0522, 0.008], [0.191, 0.06, 0.008], [0.197, 0.0709, 0.008], [0.207, 0.08, 0.009],
  [0.218, 0.0906, 0.009], [0.228, 0.1, 0.01], [0.24, 0.112, 0.01], [0.252, 0.124, 0.011], [0.266, 0.135, 0.012],
  [0.28, 0.135, 0.012], [0.292, 0.132, 0.012], [0.303, 0.127, 0.011], [0.318, 0.117, 0.011], [0.335, 0.106, 0.01],
  [0.352, 0.094, 0.01], [0.37, 0.0826, 0.009], [0.39, 0.069, 0.008], [0.409, 0.0572, 0.007], [0.43, 0.049, 0.007],
  [0.451, 0.042, 0.006], [0.475, 0.038, 0.006], [0.498, 0.0363, 0.005], [0.52, 0.03, 0.005], [0.55, 0.025, 0.005],
  [0.58, 0.021, 0.005],
];
const ilFitN2 = [
  [0.00794, 0.0839], [0.0114, 0.0826], [0.0159, 0.0777], [0.0207, 0.0709], [0.0261, 0.0628], [0.0329, 0.0522],
  [0.0402, 0.0425], [0.0444, 0.037], [0.0542, 0.027], [0.066, 0.0195], [0.0834, 0.0149], [0.105, 0.0112],
  [0.132, 0.00845], [0.162, 0.00713], [0.185, 0.0067], [0.225, 0.00702], [0.275, 0.00845], [0.335, 0.0105],
  [0.409, 0.0123], [0.498, 0.0135], [0.6, 0.0145],
];
const ilFitN4 = [
  [0.00794, 0.222], [0.0114, 0.214], [0.0159, 0.195], [0.0207, 0.172], [0.0261, 0.139], [0.0329, 0.109],
  [0.043, 0.0777], [0.056, 0.0537], [0.073, 0.0396], [0.089, 0.032], [0.109, 0.0266], [0.128, 0.0221],
  [0.151, 0.0201], [0.181, 0.0197], [0.225, 0.0208], [0.275, 0.0236], [0.335, 0.0284], [0.409, 0.033],
  [0.451, 0.036], [0.5, 0.04], [0.56, 0.047],
];
const ilFitN10 = [
  [0.00694, 1.087], [0.0097, 1.053], [0.0135, 1.0], [0.0188, 0.877], [0.0261, 0.665], [0.0364, 0.446],
  [0.0507, 0.249], [0.0706, 0.123], [0.0984, 0.0608], [0.137, 0.0447], [0.162, 0.049], [0.21, 0.0777],
  [0.284, 0.119], [0.335, 0.102], [0.395, 0.0667], [0.451, 0.0408], [0.5, 0.03], [0.55, 0.025],
];
const ilSlope = [[0.0598, 0.5055], [0.0896, 0.5055], [0.0896, 0.253], [0.0598, 0.5055]];
const ilRatioN2 = [
  [0.0163, 0.304], [0.0182, 0.318], [0.0204, 0.314], [0.0224, 0.314], [0.0245, 0.323], [0.0288, 0.331],
  [0.032, 0.326], [0.036, 0.327], [0.04, 0.326], [0.045, 0.327], [0.05, 0.326], [0.055, 0.327], [0.0598, 0.326],
  [0.065, 0.327], [0.07, 0.327], [0.0765, 0.326], [0.0834, 0.326], [0.091, 0.327], [0.1, 0.327], [0.11, 0.327],
  [0.12, 0.327], [0.13, 0.327], [0.14, 0.327], [0.15, 0.327], [0.16, 0.327], [0.172, 0.327], [0.185, 0.327],
  [0.2, 0.327], [0.225, 0.326], [0.24, 0.327], [0.26, 0.328], [0.28, 0.328], [0.3, 0.329], [0.32, 0.33],
  [0.335, 0.33], [0.35, 0.331], [0.37, 0.331], [0.39, 0.333], [0.41, 0.334], [0.43, 0.335], [0.45, 0.337],
  [0.47, 0.338], [0.49, 0.34], [0.51, 0.342], [0.532, 0.344], [0.55, 0.346], [0.57, 0.348],
];
const ilRatioN4 = [
  [0.0163, 0.438], [0.0182, 0.424], [0.0204, 0.446], [0.0224, 0.414], [0.0245, 0.424], [0.027, 0.428],
  [0.03, 0.425], [0.033, 0.43], [0.036, 0.428], [0.04, 0.43], [0.045, 0.432], [0.05, 0.43], [0.055, 0.431],
  [0.0598, 0.431], [0.065, 0.433], [0.07, 0.434], [0.075, 0.435], [0.08, 0.437], [0.085, 0.438], [0.09, 0.44],
  [0.095, 0.441], [0.1, 0.442], [0.108, 0.444], [0.116, 0.446], [0.125, 0.447], [0.135, 0.449], [0.145, 0.45],
  [0.155, 0.452], [0.167, 0.453], [0.18, 0.455], [0.192, 0.456], [0.205, 0.458], [0.225, 0.46], [0.24, 0.462],
  [0.26, 0.464], [0.28, 0.466], [0.3, 0.468], [0.318, 0.47], [0.335, 0.472], [0.352, 0.474], [0.37, 0.477],
  [0.39, 0.479], [0.41, 0.482], [0.43, 0.484], [0.45, 0.486], [0.47, 0.488], [0.49, 0.49], [0.51, 0.491],
  [0.532, 0.493], [0.55, 0.495], [0.57, 0.497],
];
const ilRatioN10 = [
  [0.0163, 0.624], [0.0182, 0.615], [0.0204, 0.615], [0.0224, 0.597], [0.0245, 0.62], [0.027, 0.615],
  [0.03, 0.622], [0.033, 0.618], [0.036, 0.625], [0.04, 0.62], [0.045, 0.622], [0.05, 0.618], [0.055, 0.62],
  [0.0598, 0.62], [0.066, 0.622], [0.073, 0.624], [0.08, 0.625], [0.085, 0.626], [0.09, 0.628], [0.0984, 0.63],
  [0.104, 0.632], [0.11, 0.635], [0.117, 0.638], [0.124, 0.642], [0.13, 0.647], [0.137, 0.652], [0.143, 0.658],
  [0.15, 0.665], [0.156, 0.673], [0.162, 0.682], [0.171, 0.696], [0.18, 0.71], [0.188, 0.72], [0.197, 0.732],
  [0.206, 0.742], [0.215, 0.752], [0.224, 0.76], [0.233, 0.768], [0.244, 0.777], [0.255, 0.785], [0.265, 0.79],
  [0.275, 0.795], [0.284, 0.79], [0.293, 0.785], [0.303, 0.777], [0.313, 0.768], [0.324, 0.759], [0.335, 0.75],
  [0.346, 0.741], [0.358, 0.732], [0.369, 0.721], [0.38, 0.71], [0.394, 0.696], [0.409, 0.682], [0.424, 0.676],
  [0.44, 0.67], [0.455, 0.666], [0.47, 0.662], [0.485, 0.658], [0.5, 0.655], [0.516, 0.65], [0.532, 0.645],
  [0.546, 0.642], [0.56, 0.64],
];

// ---------------- styling constants ----------------
const NAVY = '0,0,128';
const SKY = '0,176,240';
const GOLD = '255,192,0';
const RED = '255,0,0';
const TICK_FONT = 'DejaVu Sans';
const DATA_ALPHA = 0.6;

const MELT_BOX = { L: 238, R: 1077, T: 93, B: 1282 };
const MELT_SUB_BOX = { L: 238, R: 1077, T: 1304, B: 1472 };
const THF_BOX = { L: 1242, R: 2084, T: 93, B: 1472 };
const IL_BOX = { L: 2249, R: 3089, T: 93, B: 1282 };
const IL_SUB_BOX = { L: 2249, R: 3089, T: 1304, B: 1472 };

// ---------------- helpers ----------------
const pts = (a: number[][]) => a.map((p) => ({ x: p[0], y: p[1] }));

function dataSet(label: string, a: number[][], rgb: string, alpha: number, r: number, withErr: boolean) {
  return {
    label,
    data: pts(a),
    errs: withErr ? a.map((p) => p[2] || 0) : null,
    errColor: `rgba(${rgb},${Math.min(alpha, 0.55)})`,
    backgroundColor: `rgba(${rgb},${alpha})`,
    borderColor: `rgba(${rgb},${alpha})`,
    pointRadius: r,
    pointHoverRadius: r,
    pointBorderWidth: 1.5,
    borderWidth: 1.5,
    showLine: false,
    clip: 0,
  };
}
function fitSet(a: number[][], color: string) {
  return {
    label: 'fit',
    data: pts(a),
    borderColor: color,
    backgroundColor: color,
    borderWidth: 2.6,
    pointRadius: 0,
    pointHoverRadius: 0,
    showLine: true,
    cubicInterpolationMode: 'monotone',
    clip: 0,
  };
}
function slopeSet(a: number[][]) {
  return {
    label: 'slope',
    data: pts(a),
    borderColor: '#000',
    backgroundColor: '#000',
    borderWidth: 3,
    borderJoinStyle: 'miter',
    pointRadius: 0,
    pointHoverRadius: 0,
    showLine: true,
    tension: 0,
    clip: 0,
  };
}

const allIntensityTicks = [
  ...iMajorTicks,
  ...iMajorTicks.flatMap((m) => iMinorMultipliers.map((k) => Number((m * k).toPrecision(3)))),
];
const allQTicks = [...qMajorTicks, ...qMinorTicks];

function logAxis(o: any) {
  const horizontal = o.pos === 'x';
  return {
    type: 'logarithmic',
    position: horizontal ? 'bottom' : 'left',
    min: o.range[0],
    max: o.range[1],
    grid: { display: false, drawTicks: false },
    border: { display: false },
    afterBuildTicks: (s: any) => {
      s.ticks = o.ticks
        .filter((v: number) => v >= o.range[0] * 0.999 && v <= o.range[1] * 1.001)
        .sort((a: number, b: number) => a - b)
        .map((v: number) => ({ value: v, major: o.majors.includes(v) }));
    },
    afterFit: (s: any) => {
      if (horizontal) s.height = o.size;
      else s.width = o.size;
      s.paddingTop = 0;
      s.paddingBottom = 0;
      s.paddingLeft = 0;
      s.paddingRight = 0;
    },
    ticks: { display: false, autoSkip: false },
  };
}

// draws "base^exponent" with a raised, smaller exponent (mathtext style)
function drawMathLabel(ctx: any, text: string, x: number, baseline: number, align: string) {
  const parts = text.split('^');
  const base = parts[0];
  const exp = parts[1] || '';
  ctx.font = `33px "${TICK_FONT}"`;
  const wb = ctx.measureText(base).width;
  ctx.font = `23px "${TICK_FONT}"`;
  const we = exp ? ctx.measureText(exp).width : 0;
  const total = wb + we;
  const x0 = align === 'right' ? x - total : x - total / 2;
  ctx.textAlign = 'left';
  ctx.textBaseline = 'alphabetic';
  ctx.font = `33px "${TICK_FONT}"`;
  ctx.fillText(base, x0, baseline);
  if (exp) {
    ctx.font = `23px "${TICK_FONT}"`;
    ctx.fillText(exp, x0 + wb, baseline - 13);
  }
}

// ---------------- plugins ----------------
const errorBars = {
  id: 'errorBars',
  beforeDatasetDraw(chart: any, args: any) {
    const ds = chart.data.datasets[args.index];
    if (!ds || !ds.errs) return;
    const { ctx, chartArea: a, scales } = chart;
    const xs = scales.x;
    const ys = scales.y;
    ctx.save();
    ctx.beginPath();
    ctx.rect(a.left, a.top, a.right - a.left, a.bottom - a.top);
    ctx.clip();
    ctx.strokeStyle = ds.errColor;
    ctx.lineWidth = 2.2;
    const cap = 9;
    ds.data.forEach((p: any, i: number) => {
      const e = ds.errs[i];
      if (!e) return;
      const x = xs.getPixelForValue(p.x);
      const yHi = ys.getPixelForValue(p.y + e);
      const low = p.y - e;
      const yLo = low > 0 ? ys.getPixelForValue(low) : a.bottom + 40;
      ctx.beginPath();
      ctx.moveTo(x, yHi);
      ctx.lineTo(x, yLo);
      ctx.moveTo(x - cap, yHi);
      ctx.lineTo(x + cap, yHi);
      if (low > 0) {
        ctx.moveTo(x - cap, yLo);
        ctx.lineTo(x + cap, yLo);
      }
      ctx.stroke();
    });
    ctx.restore();
  },
};

const framePlugin = {
  id: 'frame',
  afterDraw(chart: any, _args: any, o: any) {
    const { ctx, chartArea: a } = chart;
    ctx.save();
    ctx.strokeStyle = '#1a1a1a';
    const drawTicks = (scale: any, horizontal: boolean) => {
      scale.ticks.forEach((t: any) => {
        const p = scale.getPixelForValue(t.value);
        if (horizontal ? p < a.left - 1 || p > a.right + 1 : p < a.top - 1 || p > a.bottom + 1) return;
        const len = t.major ? 11 : 6;
        ctx.lineWidth = t.major ? 2 : 1.6;
        ctx.beginPath();
        if (horizontal) {
          ctx.moveTo(p, a.bottom);
          ctx.lineTo(p, a.bottom + len);
        } else {
          ctx.moveTo(a.left, p);
          ctx.lineTo(a.left - len, p);
        }
        ctx.stroke();
      });
    };
    drawTicks(chart.scales.x, true);
    drawTicks(chart.scales.y, false);
    ctx.lineWidth = 2;
    ctx.strokeRect(a.left, a.top, a.right - a.left, a.bottom - a.top);
    ctx.fillStyle = '#111';
    const drawLabels = (scale: any, cfg: any, horizontal: boolean) => {
      if (!cfg || !cfg.show) return;
      for (let i = 0; i < cfg.values.length; i++) {
        const v = cfg.values[i];
        if (v < scale.min * 0.999 || v > scale.max * 1.001) continue;
        const p = scale.getPixelForValue(v);
        if (horizontal) drawMathLabel(ctx, cfg.labels[i], p, a.bottom + 51, 'center');
        else drawMathLabel(ctx, cfg.labels[i], a.left - 22, p + 14, 'right');
      }
    };
    if (o) {
      drawLabels(chart.scales.x, o.x, true);
      drawLabels(chart.scales.y, o.y, false);
    }
    ctx.restore();
  },
};

const legendPlugin = {
  id: 'boxLegend',
  afterDraw(chart: any, _args: any, o: any) {
    if (!o || !o.items) return;
    const { ctx, chartArea: a } = chart;
    const items = o.items;
    const n = items.length;
    const w = 341;
    const h = 83 + 52 * (n - 1) + 31;
    const x0 = o.corner === 'upperright' ? a.right - 17 - w : a.left + 17;
    const y0 = o.corner === 'upperright' ? a.top + 17 : a.bottom - 17 - h;
    ctx.save();
    const r = 8;
    ctx.beginPath();
    ctx.moveTo(x0 + r, y0);
    ctx.arcTo(x0 + w, y0, x0 + w, y0 + h, r);
    ctx.arcTo(x0 + w, y0 + h, x0, y0 + h, r);
    ctx.arcTo(x0, y0 + h, x0, y0, r);
    ctx.arcTo(x0, y0, x0 + w, y0, r);
    ctx.closePath();
    ctx.fillStyle = 'rgba(255,255,255,0.8)';
    ctx.fill();
    ctx.strokeStyle = 'rgba(204,204,204,0.9)';
    ctx.lineWidth = 2;
    ctx.stroke();
    ctx.fillStyle = '#111';
    ctx.font = `34px "${TICK_FONT}"`;
    ctx.textAlign = 'center';
    ctx.textBaseline = 'middle';
    ctx.fillText(o.title, x0 + w / 2, y0 + 31);
    for (let i = 0; i < n; i++) {
      const it = items[i];
      const cy = y0 + 83 + 52 * i;
      const cx = x0 + 108;
      const col = `rgba(${it.rgb},0.55)`;
      ctx.strokeStyle = col;
      ctx.lineWidth = 2.2;
      ctx.beginPath();
      ctx.moveTo(cx, cy - 18);
      ctx.lineTo(cx, cy + 18);
      ctx.moveTo(cx - 9, cy - 18);
      ctx.lineTo(cx + 9, cy - 18);
      ctx.moveTo(cx - 9, cy + 18);
      ctx.lineTo(cx + 9, cy + 18);
      ctx.stroke();
      ctx.beginPath();
      ctx.arc(cx, cy, 10, 0, Math.PI * 2);
      ctx.fillStyle = col;
      ctx.fill();
      ctx.lineWidth = 1.5;
      ctx.stroke();
      ctx.fillStyle = '#111';
      ctx.textAlign = 'left';
      ctx.fillText(it.label, x0 + 172, cy);
    }
    ctx.restore();
  },
};

const notesPlugin = {
  id: 'notes',
  afterDatasetsDraw(chart: any, _args: any, o: any) {
    if (!o || !o.items) return;
    const { ctx, scales } = chart;
    ctx.save();
    ctx.fillStyle = '#111';
    ctx.textAlign = 'left';
    ctx.textBaseline = 'middle';
    for (let i = 0; i < o.items.length; i++) {
      const it = o.items[i];
      ctx.font = `${it.size}px Lato`;
      ctx.fillText(it.text, scales.x.getPixelForValue(it.x), scales.y.getPixelForValue(it.y));
    }
    ctx.restore();
  },
};

// ---------------- chart specs ----------------
function geometry(box: any, yW: number, xH: number, padT: number, padR: number) {
  const left = box.L - yW;
  const top = box.T - padT;
  return { left, top, width: box.R + padR - left, height: box.B + xH - top, padT, padR };
}

function buildConfig(spec: any) {
  return {
    type: 'scatter',
    data: { datasets: spec.datasets.map((d: any, i: number) => ({ ...d, order: -i })) },
    options: {
      responsive: false,
      animation: false,
      events: [],
      devicePixelRatio: 1,
      layout: { autoPadding: false, padding: { left: 0, top: spec.geom.padT, right: spec.geom.padR, bottom: 0 } },
      scales: { x: logAxis(spec.x), y: logAxis(spec.y) },
      plugins: {
        legend: { display: false },
        tooltip: { enabled: false },
        frame: {
          x: { show: spec.x.show, values: spec.x.labelled, labels: spec.x.labels },
          y: { show: spec.y.show, values: spec.y.labelled, labels: spec.y.labels },
        },
        boxLegend: spec.legend || false,
        notes: spec.notes || false,
      },
    },
    plugins: [errorBars, framePlugin, legendPlugin, notesPlugin],
  };
}

const legendTitle = 'Alkyl chain length';

const specs = [
  {
    key: 'melt',
    geom: geometry(MELT_BOX, 200, 26, 10, 10),
    x: { pos: 'x', range: meltQRange, ticks: allQTicks, majors: qMajorTicks, labelled: qMajorTicks, labels: qTickLabels, size: 26, show: false },
    y: { pos: 'y', range: meltIRange, ticks: allIntensityTicks, majors: iMajorTicks, labelled: iMajorTicks, labels: iTickLabels, size: 200, show: true },
    datasets: [
      dataSet('n=1', meltN1, NAVY, DATA_ALPHA, 10, true),
      dataSet('n=2', meltN2, SKY, DATA_ALPHA, 10, true),
      dataSet('n=4', meltN4, GOLD, DATA_ALPHA, 10, true),
      dataSet('n=10', meltN10, RED, DATA_ALPHA, 10, true),
      fitSet(meltFitN1, '#00b0f0'),
      fitSet(meltFitN2, '#000080'),
      fitSet(meltFitN4, '#ff0000'),
      fitSet(meltFitN10, '#ffc000'),
      slopeSet(meltSlope),
    ],
    legend: {
      corner: 'lowerleft',
      title: legendTitle,
      items: [
        { label: 'n=1', rgb: NAVY },
        { label: 'n=2', rgb: SKY },
        { label: 'n=4', rgb: GOLD },
        { label: 'n=10', rgb: RED },
      ],
    },
    notes: { items: [{ x: 0.181, y: 5.64, text: '-2', size: 38 }] },
  },
  {
    key: 'meltSub',
    geom: geometry(MELT_SUB_BOX, 200, 130, 24, 10),
    x: { pos: 'x', range: meltQRange, ticks: allQTicks, majors: qMajorTicks, labelled: qMajorTicks, labels: qTickLabels, size: 130, show: true },
    y: { pos: 'y', range: meltRatioRange, ticks: meltRatioTicks, majors: [1], labelled: meltRatioLabelled, labels: meltRatioLabels, size: 200, show: true },
    datasets: [
      dataSet('n=2', meltRatioN2, SKY, 1, 10.5, false),
      dataSet('n=4', meltRatioN4, GOLD, 1, 10.5, false),
      dataSet('n=10', meltRatioN10, RED, 1, 10.5, false),
    ],
  },
  {
    key: 'thf',
    geom: geometry(THF_BOX, 200, 130, 10, 10),
    x: { pos: 'x', range: thfQRange, ticks: allQTicks, majors: qMajorTicks, labelled: qMajorTicks, labels: qTickLabels, size: 130, show: true },
    y: { pos: 'y', range: thfIRange, ticks: allIntensityTicks, majors: iMajorTicks, labelled: iMajorTicks, labels: iTickLabels, size: 200, show: true },
    datasets: [
      dataSet('n=2', thfN2, SKY, DATA_ALPHA, 9.5, true),
      dataSet('n=4', thfN4, GOLD, DATA_ALPHA, 9.5, true),
      dataSet('n=10', thfN10, RED, DATA_ALPHA, 9.5, true),
      fitSet(thfFitN2, '#000080'),
      fitSet(thfFitN4, '#ff0000'),
      fitSet(thfFitN10, '#ffc000'),
      slopeSet(thfSlope),
    ],
    legend: {
      corner: 'lowerleft',
      title: legendTitle,
      items: [
        { label: 'n=2', rgb: SKY },
        { label: 'n=4', rgb: GOLD },
        { label: 'n=10', rgb: RED },
      ],
    },
    notes: { items: [{ x: 0.131, y: 0.411, text: '-1.7', size: 43 }] },
  },
  {
    key: 'il',
    geom: geometry(IL_BOX, 200, 26, 10, 10),
    x: { pos: 'x', range: ilQRange, ticks: allQTicks, majors: qMajorTicks, labelled: qMajorTicks, labels: qTickLabels, size: 26, show: false },
    y: { pos: 'y', range: ilIRange, ticks: allIntensityTicks, majors: iMajorTicks, labelled: iMajorTicks, labels: iTickLabels, size: 200, show: true },
    datasets: [
      dataSet('n=2', ilN2, SKY, DATA_ALPHA, 9.5, true),
      dataSet('n=4', ilN4, GOLD, DATA_ALPHA, 9.5, true),
      dataSet('n=10', ilN10, RED, DATA_ALPHA, 9.5, true),
      fitSet(ilFitN2, '#000080'),
      fitSet(ilFitN4, '#ff0000'),
      fitSet(ilFitN10, '#ffc000'),
      slopeSet(ilSlope),
    ],
    legend: {
      corner: 'upperright',
      title: legendTitle,
      items: [
        { label: 'n=2', rgb: SKY },
        { label: 'n=4', rgb: GOLD },
        { label: 'n=10', rgb: RED },
      ],
    },
    notes: { items: [{ x: 0.1105, y: 0.344, text: '-2', size: 38 }] },
  },
  {
    key: 'ilSub',
    geom: geometry(IL_SUB_BOX, 200, 130, 24, 10),
    x: { pos: 'x', range: ilQRange, ticks: allQTicks, majors: qMajorTicks, labelled: qMajorTicks, labels: qTickLabels, size: 130, show: true },
    y: { pos: 'y', range: ilRatioRange, ticks: ilRatioTicks, majors: [], labelled: ilRatioLabelled, labels: ilRatioLabels, size: 200, show: true },
    datasets: [
      dataSet('n=2', ilRatioN2, SKY, 0.6, 10, false),
      dataSet('n=4', ilRatioN4, GOLD, 0.6, 10, false),
      dataSet('n=10', ilRatioN10, RED, 0.6, 10, false),
    ],
  },
];

function ChartCanvas({ spec }: { spec: any }) {
  const ref = useRef<HTMLCanvasElement | null>(null);
  useEffect(() => {
    if (!ref.current) return;
    const chart = new Chart(ref.current, buildConfig(spec) as any);
    return () => chart.destroy();
  }, [spec]);
  const g = spec.geom;
  return (
    <canvas
      ref={ref}
      width={g.width}
      height={g.height}
      style={{ position: 'absolute', left: g.left, top: g.top, width: g.width, height: g.height }}
    />
  );
}

const titleStyle = (x: number, y: number): React.CSSProperties => ({
  position: 'absolute',
  left: x,
  top: y,
  transform: 'translate(-50%, -50%) scaleX(1.12)',
  font: 'bold 53px Lato, sans-serif',
  color: '#000',
  whiteSpace: 'nowrap',
});

const supStyle: React.CSSProperties = {
  fontSize: 32,
  position: 'relative',
  top: -19,
  marginLeft: 2,
};

const axisLabelFont = '46px "DejaVu Sans", sans-serif';

function XLabel({ x }: { x: number }) {
  return (
    <div
      style={{
        position: 'absolute',
        left: x,
        top: 1579,
        transform: 'translate(-50%, -50%)',
        font: axisLabelFont,
        color: '#111',
        whiteSpace: 'nowrap',
        lineHeight: '60px',
      }}
    >
      q (<i>Å</i>
      <span style={supStyle}>−1</span>)
    </div>
  );
}

export default function App() {
  return (
    <div
      style={{
        position: 'fixed',
        left: 0,
        top: 0,
        width: 3035,
        height: 1609,
        overflow: 'hidden',
        background: '#ffffff',
      }}
    >
      <div style={{ position: 'absolute', left: 0, top: 0, width: 4, height: 1609, background: '#1b9ad8' }} />
      {specs.map((s) => (
        <ChartCanvas key={s.key} spec={s} />
      ))}
      <div style={titleStyle(659, 52)}>Melt</div>
      <div style={titleStyle(1697, 50)}>Dilute solution in THF</div>
      <div style={titleStyle(2669, 57)}>Dilute solution in IL</div>
      <div
        style={{
          position: 'absolute',
          left: 86,
          top: 688,
          transform: 'translate(-50%, -50%) rotate(-90deg)',
          font: axisLabelFont,
          color: '#111',
          whiteSpace: 'nowrap',
          lineHeight: '60px',
        }}
      >
        I(q) (cm<span style={supStyle}>−1</span>)
      </div>
      <XLabel x={657} />
      <XLabel x={1663} />
      <XLabel x={2669} />
    </div>
  );
}
